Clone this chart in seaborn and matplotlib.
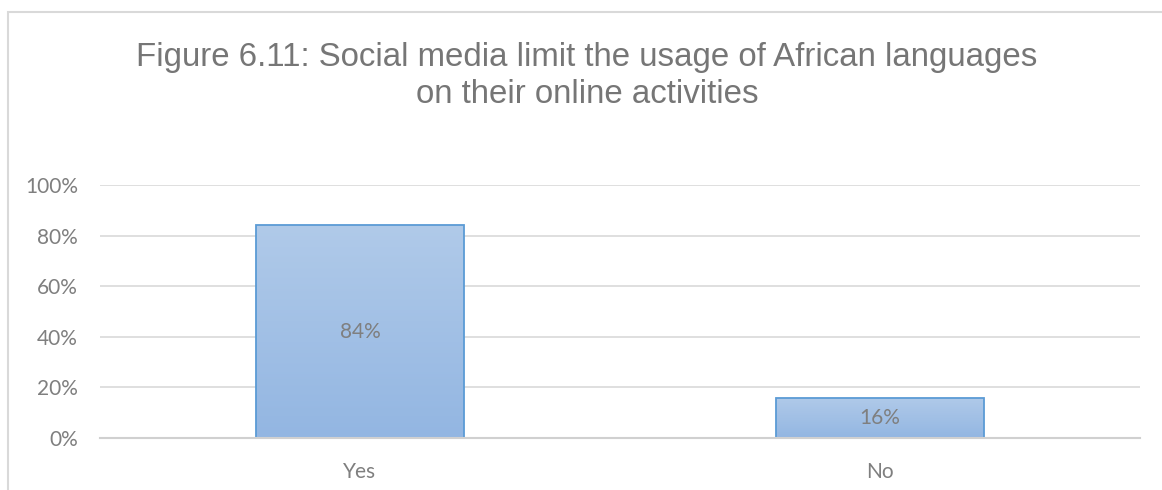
import numpy as np
import pandas as pd
import matplotlib
matplotlib.use("Agg")
import matplotlib.pyplot as plt
from matplotlib.patches import Rectangle
from matplotlib.colors import LinearSegmentedColormap
from matplotlib.ticker import FuncFormatter
import seaborn as sns

# Survey responses
categories = ["Yes", "No"]
shares = [0.84, 0.16]
yticks = [0, 0.2, 0.4, 0.6, 0.8, 1.0]

title_text = ("Figure 6.11: Social media limit the usage of African languages\n"
              "on their online activities")

sns.set_theme(style="white")
plt.rcParams["font.family"] = ["Lato", "DejaVu Sans"]

GREY_TXT = "#7f7f7f"
GRID = "#d9d9d9"
EDGE = "#5b9bd5"

fig = plt.figure(figsize=(11.62, 4.90), dpi=100)
ax = fig.add_axes([100 / 1162, 52 / 490, 1040 / 1162, 253 / 490])

df = pd.DataFrame({"answer": categories, "share": shares})
sns.barplot(data=df, x="answer", y="share", ax=ax, width=0.4,
            color="#9fbfe5", edgecolor=EDGE, linewidth=1.3, zorder=3)

ax.set_ylim(0, 1.0)
ax.set_xlim(-0.5, 1.5)
ax.set_yticks(yticks)
ax.yaxis.set_major_formatter(FuncFormatter(lambda v, _: f"{v * 100:.0f}%"))
ax.set_xlabel("")
ax.set_ylabel("")

# vertical gradient fill inside each bar
cmap = LinearSegmentedColormap.from_list("barfill", ["#93b6e2", "#b0cae9"])
grad = np.linspace(0, 1, 256).reshape(-1, 1)
for bar in ax.patches:
    x0, y0 = bar.get_x(), bar.get_y()
    w, h = bar.get_width(), bar.get_height()
    im = ax.imshow(grad, cmap=cmap, origin="lower", aspect="auto",
                   extent=(x0, x0 + w, y0, y0 + h), zorder=3.5)
    im.set_clip_path(bar)
    bar.set_facecolor("none")
    bar.set_zorder(4)
ax.set_xlim(-0.5, 1.5)
ax.set_ylim(0, 1.0)

# value labels centred in the bars
for i, v in enumerate(shares):
    ax.text(i, v / 2, f"{v * 100:.0f}%", ha="center", va="center",
            fontsize=15, color=GREY_TXT, zorder=5)

ax.yaxis.grid(True, color=GRID, linewidth=1.2, zorder=0)
ax.xaxis.grid(False)
for side in ["top", "right", "left"]:
    ax.spines[side].set_visible(False)
ax.spines["bottom"].set_color("#d0d0d0")
ax.spines["bottom"].set_linewidth(1.5)
ax.spines["bottom"].set_zorder(6)
ax.tick_params(axis="both", length=0, labelsize=15, labelcolor=GREY_TXT)
ax.tick_params(axis="y", pad=16)
ax.tick_params(axis="x", pad=17)

fig.text(587 / 1162, 1 - 76 / 490, title_text, ha="center", va="center",
         fontsize=23.8, color="#767676", family=["Liberation Sans", "DejaVu Sans"],
         linespacing=1.28)

# chart-area frame (right and bottom edges run past the image)
fig.patches.append(Rectangle((7.5 / 1162, -0.05), 1.1, 1.05 - 12.5 / 490,
                             transform=fig.transFigure,
                             fill=False, edgecolor=GRID, linewidth=1.5))

fig.savefig("out.png", dpi=100, facecolor="white")
